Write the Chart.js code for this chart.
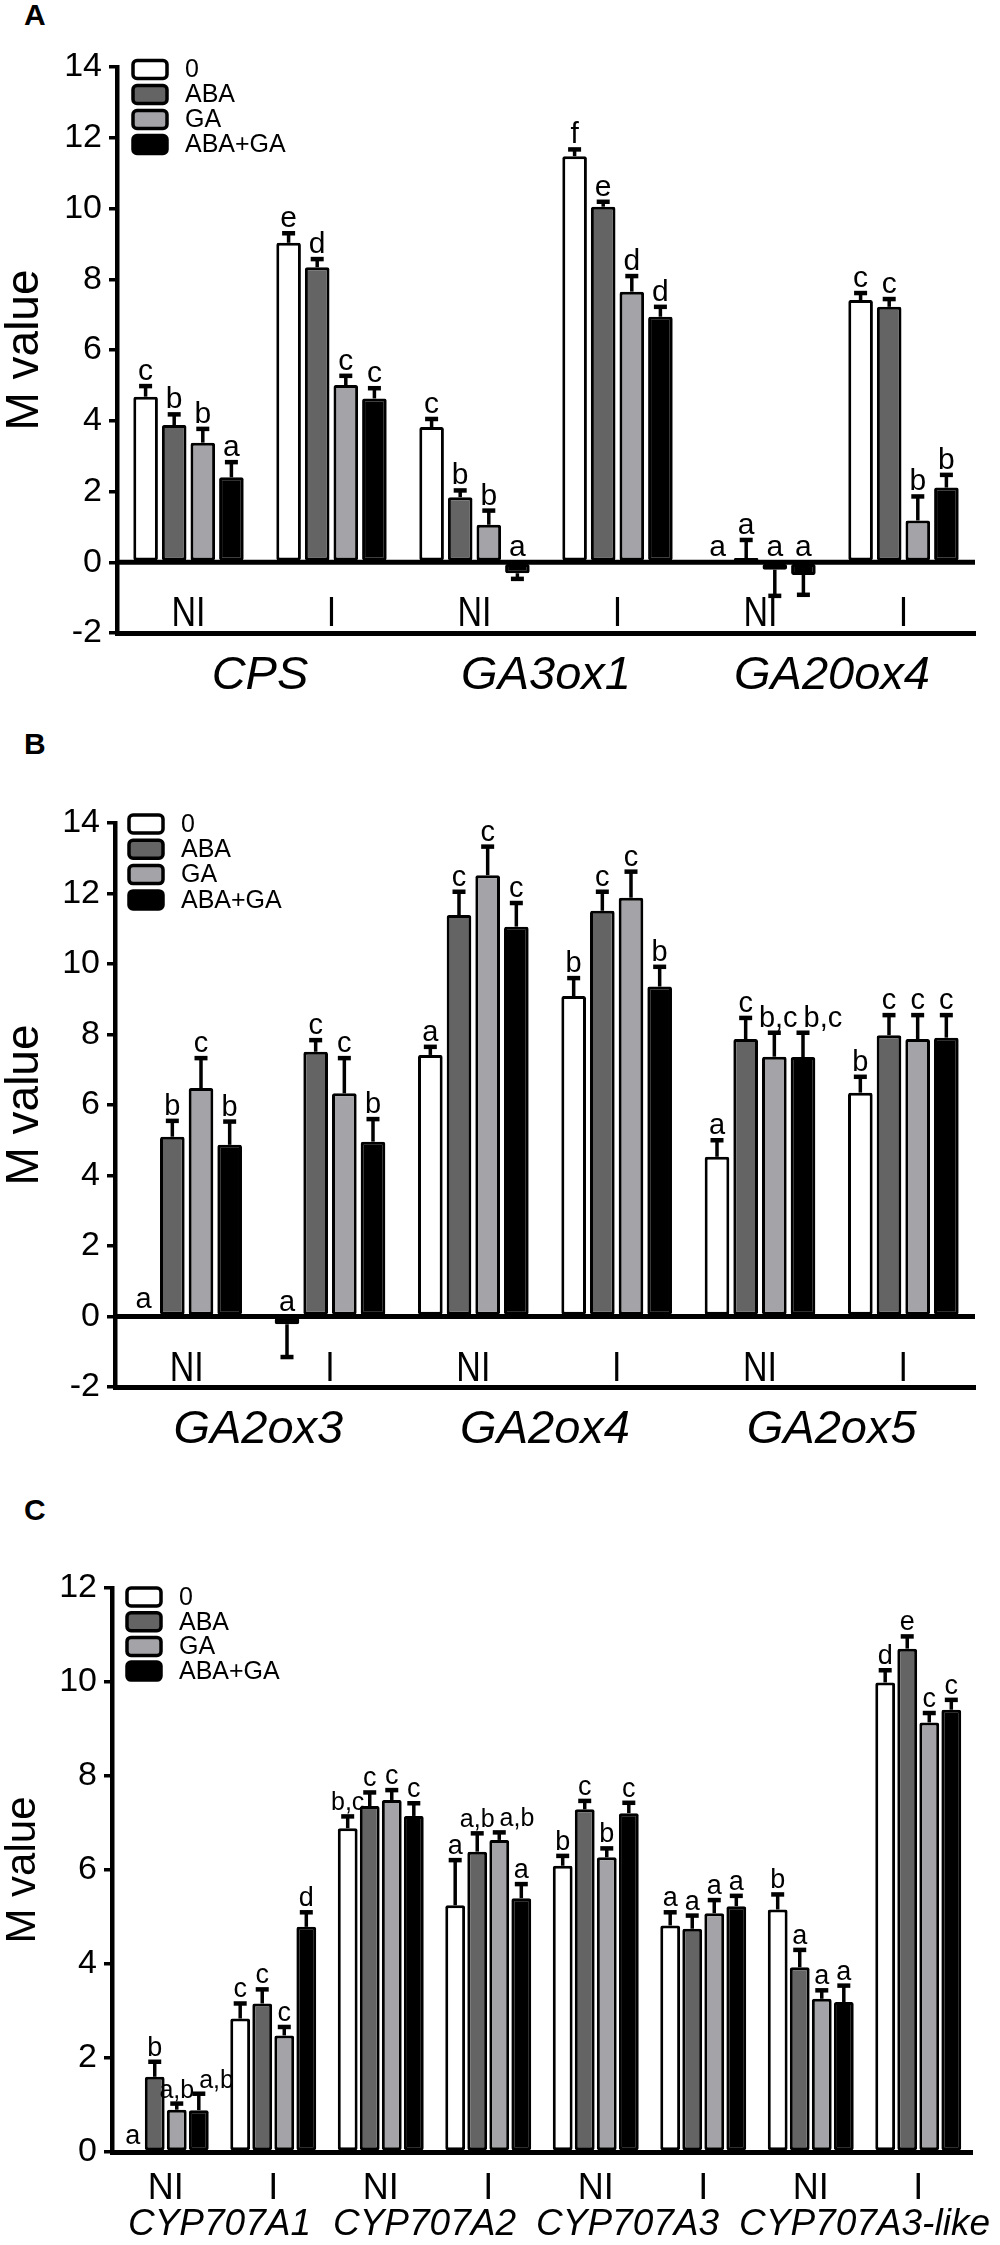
<!DOCTYPE html>
<html>
<head>
<meta charset="utf-8">
<script src="https://cdn.jsdelivr.net/npm/chart.js@4.4.1/dist/chart.umd.min.js"></script>
<style>
  body { margin: 0; background: #fff; width: 1000px; height: 2245px; position: relative; overflow: hidden; }
  .panel { position: absolute; left: 0; }
  .tag { position: absolute; left: 24px; font: bold 30px "Liberation Sans", Arial, sans-serif; line-height: 30px; }
</style>
</head>
<body>
<div class="tag" style="top:0px">A</div>
<div class="tag" style="top:729px">B</div>
<div class="tag" style="top:1495px">C</div>
<canvas id="chartA" class="panel" width="1000" height="715" style="top:0px"></canvas>
<canvas id="chartB" class="panel" width="1000" height="735" style="top:720px"></canvas>
<canvas id="chartC" class="panel" width="1000" height="795" style="top:1450px"></canvas>

<script>
// ---- datos ----
const treatments = ['0', 'ABA', 'GA', 'ABA+GA'];

// Panel A
const aCats = ['NI', 'I', 'NI', 'I', 'NI', 'I'];
const aGenes = ['CPS', 'GA3ox1', 'GA20ox4'];
const aCtrl = [4.68, 9.03, 3.82, 11.48, 0.02, 7.41];
const aAba = [3.88, 8.34, 1.84, 10.05, 0.12, 7.22];
const aGa = [3.38, 5.01, 1.06, 7.65, -0.21, 1.18];
const aAbaGa = [2.40, 4.63, -0.31, 6.94, -0.36, 2.11];
const aCtrlErr = [0.30, 0.27, 0.23, 0.19, 0.00, 0.20];
const aAbaErr = [0.30, 0.23, 0.19, 0.14, 0.51, 0.22];
const aGaErr = [0.39, 0.26, 0.40, 0.44, 0.74, 0.68];
const aAbaGaErr = [0.43, 0.29, 0.16, 0.28, 0.56, 0.36];
const aCtrlLet = ['c', 'e', 'c', 'f', 'a', 'c'];
const aAbaLet = ['b', 'd', 'b', 'e', 'a', 'c'];
const aGaLet = ['b', 'c', 'b', 'd', 'a', 'b'];
const aAbaGaLet = ['a', 'c', 'a', 'd', 'a', 'b'];

// Panel B
const bCats = ['NI', 'I', 'NI', 'I', 'NI', 'I'];
const bGenes = ['GA2ox3', 'GA2ox4', 'GA2ox5'];
const bCtrl = [0.05, -0.22, 7.42, 9.09, 4.53, 6.35];
const bAba = [5.10, 7.51, 11.39, 11.51, 7.87, 7.98];
const bGa = [6.48, 6.33, 12.52, 11.88, 7.37, 7.87];
const bAbaGa = [4.87, 4.96, 11.06, 9.36, 7.36, 7.91];
const bCtrlErr = [0.02, 0.93, 0.23, 0.51, 0.47, 0.45];
const bAbaErr = [0.45, 0.33, 0.66, 0.54, 0.60, 0.57];
const bGaErr = [0.85, 1.00, 0.81, 0.74, 0.68, 0.68];
const bAbaGaErr = [0.66, 0.64, 0.67, 0.56, 0.69, 0.64];
const bCtrlLet = ['a', 'a', 'a', 'b', 'a', 'b'];
const bAbaLet = ['b', 'c', 'c', 'c', 'c', 'c'];
const bGaLet = ['c', 'c', 'c', 'c', 'b,c', 'c'];
const bAbaGaLet = ['b', 'b', 'c', 'b', 'b,c', 'c'];

// Panel C
const cCats = ['NI', 'I', 'NI', 'I', 'NI', 'I', 'NI', 'I'];
const cGenes = ['CYP707A1', 'CYP707A2', 'CYP707A3', 'CYP707A3-like'];
const cCtrl = [0.03, 2.84, 6.89, 5.25, 6.09, 4.82, 5.16, 9.99];
const cAba = [1.60, 3.16, 7.36, 6.39, 7.29, 4.75, 3.93, 10.71];
const cGa = [0.90, 2.48, 7.49, 6.64, 6.27, 5.08, 3.26, 9.14];
const cAbaGa = [0.89, 4.79, 7.15, 5.40, 7.21, 5.23, 3.19, 9.41];
const cCtrlErr = [0.02, 0.32, 0.25, 0.96, 0.21, 0.28, 0.32, 0.26];
const cAbaErr = [0.32, 0.30, 0.29, 0.39, 0.18, 0.28, 0.37, 0.26];
const cGaErr = [0.13, 0.18, 0.21, 0.16, 0.19, 0.28, 0.18, 0.20];
const cAbaGaErr = [0.35, 0.31, 0.27, 0.30, 0.22, 0.22, 0.35, 0.21];
const cCtrlLet = ['a', 'c', 'b,c', 'a', 'b', 'a', 'b', 'd'];
const cAbaLet = ['b', 'c', 'c', 'a,b', 'c', 'a', 'a', 'e'];
const cGaLet = ['a,b', 'c', 'c', 'a,b', 'b', 'a', 'a', 'c'];
const cAbaGaLet = ['a,b', 'd', 'c', 'a', 'c', 'a', 'a', 'c'];

// ---- estilos ----
const colores = ['#ffffff', '#646464', '#a4a4a8', '#000000'];
const FUENTE = '"Liberation Sans", Arial, sans-serif';

function armarDatasets(valores, errores, letras, catPct, barPct) {
  return valores.map((v, i) => ({
    label: treatments[i],
    data: v,
    err: errores[i],
    letras: letras[i],
    backgroundColor: colores[i],
    borderColor: '#000',
    borderWidth: 3,
    borderRadius: 2,
    borderSkipped: false,
    categoryPercentage: catPct,
    barPercentage: barPct
  }));
}

// Plugin: línea del cero, barras de error, letras, leyenda y nombres de genes
const extras = {
  id: 'extras',
  afterDatasetsDraw(chart, args, opts) {
    const ctx = chart.ctx;
    const area = chart.chartArea;
    const xs = chart.scales.x, ys = chart.scales.y;
    ctx.save();
    ctx.fillStyle = '#000';
    ctx.strokeStyle = '#000';

    if (opts.zeroLine) {
      const y0 = ys.getPixelForValue(0);
      ctx.lineWidth = 5;
      ctx.beginPath();
      ctx.moveTo(area.left, y0);
      ctx.lineTo(area.right, y0);
      ctx.stroke();
    }

    const sets = chart.data.datasets;
    const n = sets[0].data.length;
    for (let j = 0; j < n; j++) {
      let prev = null;
      sets.forEach((ds, i) => {
        const bar = chart.getDatasetMeta(i).data[j];
        const v = ds.data[j], e = ds.err[j];
        const dir = v < 0 ? -1 : 1;
        const yb = ys.getPixelForValue(v);
        const ye = ys.getPixelForValue(v + dir * e);
        if (e > 0.03) {
          ctx.lineWidth = 3.5;
          ctx.beginPath();
          ctx.moveTo(bar.x, yb);
          ctx.lineTo(bar.x, ye);
          ctx.stroke();
          ctx.lineWidth = 4.5;
          ctx.beginPath();
          ctx.moveTo(bar.x - 6.5, ye);
          ctx.lineTo(bar.x + 6.5, ye);
          ctx.stroke();
        }
        // letra de significancia
        const txt = ds.letras[j];
        const size = txt.length > 1 ? opts.multiSize : opts.letterSize;
        ctx.font = size + 'px ' + FUENTE;
        const w = ctx.measureText(txt).width;
        const base = (v < 0 ? ys.getPixelForValue(0) : Math.min(ye, yb)) - 6;
        let cx = bar.x;
        const box = { l: cx - w / 2, r: cx + w / 2, t: base - size * 0.75, b: base };
        if (prev && box.l < prev.r + opts.gap && box.t < prev.b && box.b > prev.t) {
          const d = prev.r + opts.gap - box.l;
          cx += d; box.l += d; box.r += d;
        }
        ctx.textAlign = 'center';
        ctx.textBaseline = 'alphabetic';
        ctx.fillText(txt, cx, base);
        prev = box;
      });
    }

    // etiquetas NI / I dentro del área (paneles A y B), letra algo alargada
    if (opts.catLabels) {
      ctx.font = opts.catSize + 'px ' + FUENTE;
      ctx.textAlign = 'center';
      ctx.textBaseline = 'alphabetic';
      opts.catLabels.forEach((c, j) => {
        ctx.save();
        ctx.translate(xs.getPixelForValue(j), area.bottom - opts.catDy);
        ctx.scale(1, 1.25);
        ctx.fillText(c, 0, 0);
        ctx.restore();
      });
    }

    // nombres de genes: centrados en cada par NI/I, separados si se pisan
    ctx.font = 'italic ' + opts.geneSize + 'px ' + FUENTE;
    ctx.textAlign = 'center';
    ctx.textBaseline = 'middle';
    const cajas = opts.genes.map((g, k) => {
      const w = ctx.measureText(g).width;
      const gx = (xs.getPixelForValue(2 * k) + xs.getPixelForValue(2 * k + 1)) / 2;
      return { g: g, w: w, x: gx };
    });
    const ult = cajas[cajas.length - 1];
    if (ult.x + ult.w / 2 > chart.width - 6) ult.x = chart.width - 6 - ult.w / 2;
    for (let k = cajas.length - 2; k >= 0; k--) {
      const lim = cajas[k + 1].x - cajas[k + 1].w / 2 - 20;
      if (cajas[k].x + cajas[k].w / 2 > lim) cajas[k].x = lim - cajas[k].w / 2;
    }
    cajas.forEach(c => ctx.fillText(c.g, c.x, area.bottom + opts.geneDy));

    // leyenda
    const L = opts.legend;
    sets.forEach((ds, i) => {
      const cy = area.top + L.y + i * L.step;
      const bx = area.left + L.x;
      ctx.beginPath();
      ctx.roundRect(bx, cy - 9, 34, 18, 4);
      ctx.fillStyle = ds.backgroundColor;
      ctx.fill();
      ctx.lineWidth = 3.5;
      ctx.strokeStyle = '#000';
      ctx.stroke();
      ctx.fillStyle = '#000';
      ctx.font = '25px ' + FUENTE;
      ctx.textAlign = 'left';
      ctx.textBaseline = 'middle';
      ctx.fillText(ds.label, bx + 52, cy + 1);
    });
    ctx.restore();
  }
};

function ejeY(min, max, ancho, tituloSize) {
  return {
    min: min, max: max,
    ticks: { stepSize: 2, color: '#000', padding: 7, font: { family: FUENTE, size: 34 } },
    grid: { drawOnChartArea: false, drawTicks: true, tickLength: 8, lineWidth: 3.5, color: '#000' },
    border: { display: true, width: 4.5, color: '#000' },
    title: { display: true, text: 'M value', color: '#000', padding: 0,
      font: { family: FUENTE, size: tituloSize, lineHeight: 1.1 } },
    afterFit: s => { s.width = ancho; }
  };
}

function crearGrafico(id, cats, datasets, y, xOpts, padding, extraOpts) {
  return new Chart(document.getElementById(id), {
    type: 'bar',
    data: { labels: cats, datasets: datasets },
    options: {
      responsive: false,
      animation: false,
      devicePixelRatio: 1,
      layout: { padding: padding },
      plugins: { legend: { display: false }, tooltip: { enabled: false }, extras: extraOpts },
      scales: { x: xOpts, y: y }
    },
    plugins: [extras]
  });
}

const xOculto = {
  ticks: { display: false },
  grid: { display: false },
  border: { display: true, width: 5, color: '#000' },
  afterFit: s => { s.height = 0; }
};

// Panel A
crearGrafico('chartA', aCats,
  armarDatasets([aCtrl, aAba, aGa, aAbaGa], [aCtrlErr, aAbaErr, aGaErr, aAbaGaErr],
    [aCtrlLet, aAbaLet, aGaLet, aAbaGaLet], 0.8, 0.86),
  ejeY(-2, 14, 117, 46), xOculto,
  { top: 67, bottom: 82, left: 0, right: 25 },
  { zeroLine: true, catLabels: aCats, catSize: 34, catDy: 7, genes: aGenes, geneSize: 47, geneDy: 43,
    letterSize: 30, multiSize: 29, gap: 5, legend: { x: 16, y: 2.5, step: 25 } });

// Panel B
crearGrafico('chartB', bCats,
  armarDatasets([bCtrl, bAba, bGa, bAbaGa], [bCtrlErr, bAbaErr, bGaErr, bAbaGaErr],
    [bCtrlLet, bAbaLet, bGaLet, bAbaGaLet], 0.8, 0.86),
  ejeY(-2, 14, 115, 46), xOculto,
  { top: 103, bottom: 68, left: 0, right: 25 },
  { zeroLine: true, catLabels: bCats, catSize: 34, catDy: 6, genes: bGenes, geneSize: 47, geneDy: 43,
    letterSize: 29, multiSize: 29, gap: 6, legend: { x: 14, y: 1, step: 25.3 } });

// Panel C
crearGrafico('chartC', cCats,
  armarDatasets([cCtrl, cAba, cGa, cAbaGa], [cCtrlErr, cAbaErr, cGaErr, cAbaGaErr],
    [cCtrlLet, cAbaLet, cGaLet, cAbaGaLet], 0.82, 0.9),
  ejeY(0, 12, 112, 42),
  {
    ticks: { color: '#000', padding: 7, font: { family: FUENTE, size: 36 } },
    grid: { display: false },
    border: { display: true, width: 5, color: '#000' },
    afterFit: s => { s.height = 50; }
  },
  { top: 138, bottom: 43, left: 0, right: 28 },
  { zeroLine: false, genes: cGenes, geneSize: 37, geneDy: 73,
    letterSize: 27, multiSize: 25, gap: 5, legend: { x: 15, y: 9, step: 24.7 } });
</script>
</body>
</html>
